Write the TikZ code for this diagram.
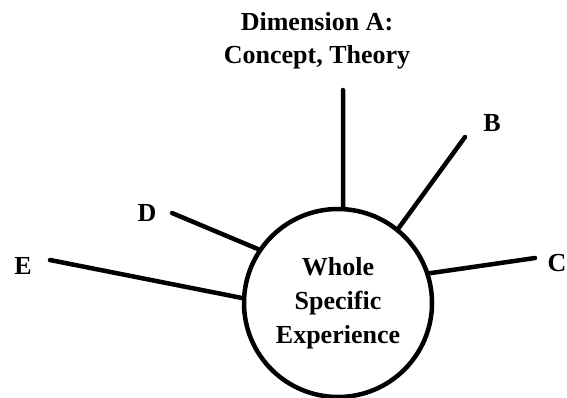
\documentclass[tikz,border=0pt]{standalone}
\usepackage{fontspec}
\setmainfont{Liberation Serif}
\begin{document}
\begin{tikzpicture}[x=1pt,y=-1pt,
  lbl/.style={font=\fontsize{26}{33}\selectfont\bfseries, inner sep=0pt},
  spoke/.style={line width=4.5pt, line cap=round},
  hub/.style={circle, draw, line width=4.5pt, minimum size=188pt, inner sep=0pt, align=center,
    font=\fontsize{26}{34}\selectfont\bfseries}]
\useasboundingbox (0,0) rectangle (567,397);
\node[hub] (c) at (338,303) {Whole\\Specific\\Experience};
\node[lbl, align=center] (la) at (317,41) {Dimension A:\\Concept, Theory};
\node[lbl] (lb) at (492,123) {B};
\node[lbl] (lc) at (557,263) {C};
\node[lbl] (ld) at (147,213) {D};
\node[lbl] (le) at (23,266) {E};
\coordinate (ea) at (343,90);
\coordinate (eb) at (465,137);
\coordinate (ec) at (535,258);
\coordinate (ed) at (172,213);
\coordinate (ee) at (50,260);
\draw[spoke] (ea) -- (c.87);
\draw[spoke] (eb) -- (c.51);
\draw[spoke] (ec) -- (c.18);
\draw[spoke] (ed) -- (c.146);
\draw[spoke] (ee) -- (c.177);
\end{tikzpicture}
\end{document}
